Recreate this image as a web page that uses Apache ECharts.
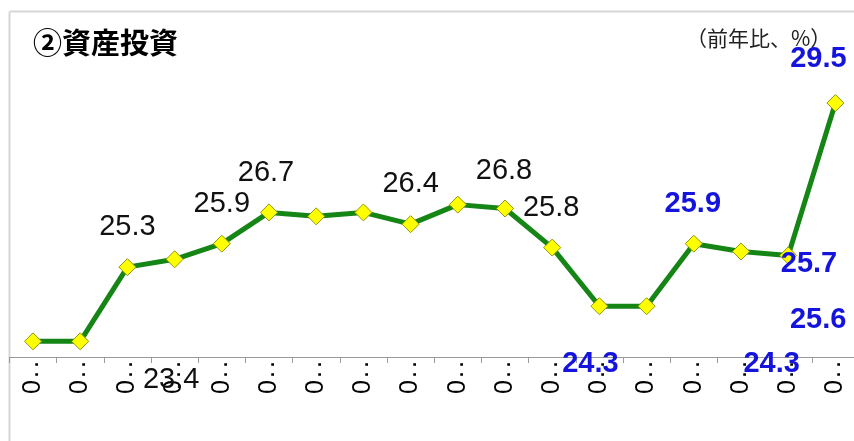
<!DOCTYPE html>
<html>
<head>
<meta charset="utf-8">
<script src="https://cdn.jsdelivr.net/npm/echarts@6/dist/echarts.min.js"></script>
<style>html,body{margin:0;padding:0;background:#fff;overflow:hidden;width:854px;height:441px;}#c{width:870px;height:441px;}</style>
</head>
<body>
<div id="c"></div>
<script>
// ---- data ----
var titleText = '②資産投資';
var unitText = '（前年比、%）';
var categories = ['0. .','0. .','0. .','0. .','0. .','0. .','0. .','0. .','0. .','0. .','0. .','0. .','0. .','0. .','0. .','0. .','0. .','0. .'];
var values = [23.4, 23.4, 25.3, 25.5, 25.9, 26.7, 26.6, 26.7, 26.4, 26.9, 26.8, 25.8, 24.3, 24.3, 25.9, 25.7, 25.6, 29.5];
var yMin = 23, yMax = 30;

// ---- label placement (index -> offset / style) ----
var labelSpec = {
  1:  {offset: [91, 39],   blue: false},
  2:  {offset: [0, -40],   blue: false},
  4:  {offset: [0, -40],   blue: false},
  5:  {offset: [-3, -39],  blue: false},
  8:  {offset: [0, -40],   blue: false},
  10: {offset: [-1, -38],  blue: false},
  11: {offset: [-1, -40],  blue: false},
  12: {offset: [-9, 58],   blue: true},
  13: {offset: [125, 58],  blue: true},
  14: {offset: [-1, -40],  blue: true},
  15: {offset: [68, 12],   blue: true},
  16: {offset: [30, 65],   blue: true},
  17: {offset: [-17, -44], blue: true}
};

var seriesData = values.map(function (v, i) {
  var s = labelSpec[i];
  if (!s) return {value: v, label: {show: false}};
  return {
    value: v,
    label: {
      show: true,
      position: 'inside',
      offset: s.offset,
      color: s.blue ? '#1414dc' : '#111',
      fontWeight: s.blue ? 'bold' : 'normal',
      fontSize: 29,
      fontFamily: 'Liberation Sans, Arial, sans-serif'
    }
  };
});

var chart = echarts.init(document.getElementById('c'), null, {renderer: 'canvas'});
chart.setOption({
  animation: false,
  backgroundColor: '#ffffff',
  title: {
    text: titleText,
    left: 28, top: 23,
    textStyle: {fontFamily: 'Noto Sans CJK JP', fontWeight: 'bold', fontSize: 29, color: '#000'}
  },
  graphic: [
    {type: 'line', shape: {x1: 9.5, y1: 11.5, x2: 870, y2: 11.5}, style: {stroke: '#d6d6d6', lineWidth: 2}, z: 0},
    {type: 'line', shape: {x1: 9.5, y1: 11.5, x2: 9.5, y2: 441}, style: {stroke: '#d6d6d6', lineWidth: 2}, z: 0},
    {type: 'text', left: 686, top: 28,
     style: {text: unitText, font: '21px "Noto Sans CJK JP"', fill: '#222'}}
  ],
  grid: {left: 9.4, top: 83.5, width: 849.6, height: 273.5},
  xAxis: {
    type: 'category',
    data: categories,
    boundaryGap: true,
    axisLine: {lineStyle: {color: '#9a9a9a', width: 1}},
    axisTick: {show: true, length: 6, lineStyle: {color: '#9a9a9a'}},
    axisLabel: {
      interval: 0,
      rotate: 90,
      margin: 5,
      color: '#000',
      formatter: function (v) { return '{z|' + v.charAt(0) + '}{d|' + v.slice(1) + '}'; },
      rich: {
        z: {fontSize: 25, fontFamily: 'Liberation Sans', color: '#000', padding: [0, 3, 0, 0]},
        d: {fontSize: 18, fontFamily: 'Liberation Sans', color: '#000', fontWeight: 'bold'}
      }
    }
  },
  yAxis: {
    type: 'value', min: yMin, max: yMax, show: false,
    splitLine: {show: false}
  },
  series: [{
    type: 'line',
    data: seriesData,
    symbol: 'diamond',
    symbolSize: 17,
    lineStyle: {color: '#158515', width: 5},
    itemStyle: {color: '#ffff00', borderColor: '#8e9a00', borderWidth: 1},
    z: 3
  }]
});
</script>
</body>
</html>
